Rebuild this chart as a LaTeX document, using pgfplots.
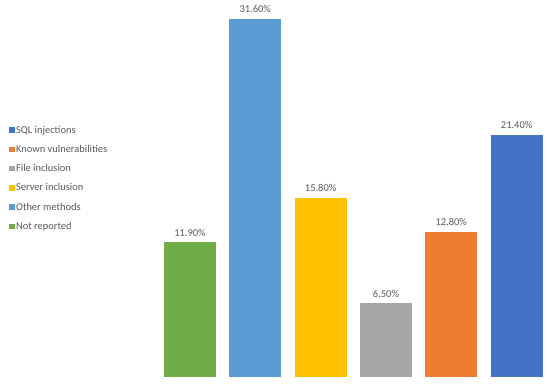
\documentclass[border=0pt]{standalone}
\usepackage{pgfplots}
\pgfplotsset{compat=1.18}
\usepackage{fontspec}
\setmainfont{Carlito}
\definecolor{cgreen}{HTML}{70AD47}
\definecolor{clblue}{HTML}{5B9BD5}
\definecolor{cyellow}{HTML}{FFC000}
\definecolor{cgray}{HTML}{A5A5A5}
\definecolor{corange}{HTML}{ED7D31}
\definecolor{cblue}{HTML}{4472C4}
\definecolor{ctext}{HTML}{595959}
\begin{document}
\begin{tikzpicture}[x=1bp,y=1bp]
\path[use as bounding box] (0,0) rectangle (550,384);
\begin{axis}[
  at={(157.3bp,7bp)}, anchor=south west,
  scale only axis, width=392bp, height=377bp,
  xmin=-0.5, xmax=5.5, ymin=0, ymax=33.27,
  hide axis, clip=false,
  ybar, bar width=52bp, bar shift=0pt,
  /pgf/number format/assume math mode=true,
  nodes near coords={\pgfmathprintnumber[fixed,fixed zerofill,precision=2]{\pgfplotspointmeta}\%},
  every node near coord/.append style={font=\fontsize{10.5}{12.5}\selectfont, text=ctext, anchor=south, yshift=2.5bp},
  legend style={at={(axis description cs:-0.386,0.527)}, anchor=west, draw=none, fill=none,
    font=\fontsize{10.5}{12.5}\selectfont, text=ctext, row sep=7.5bp,
    nodes={inner sep=1.5bp}},
  legend cell align=left,
  legend image code/.code={\fill[#1] (0bp,-2.7bp) rectangle (5.4bp,2.7bp);},
]
\addplot[fill=cblue, draw=none] coordinates {(5,21.4)};
\addplot[fill=corange, draw=none] coordinates {(4,12.8)};
\addplot[fill=cgray, draw=none] coordinates {(3,6.5)};
\addplot[fill=cyellow, draw=none] coordinates {(2,15.8)};
\addplot[fill=clblue, draw=none] coordinates {(1,31.6)};
\addplot[fill=cgreen, draw=none] coordinates {(0,11.9)};
\legend{SQL injections, Known vulnerabilities, File inclusion, Server inclusion, Other methods, Not reported}
\end{axis}
\end{tikzpicture}
\end{document}
